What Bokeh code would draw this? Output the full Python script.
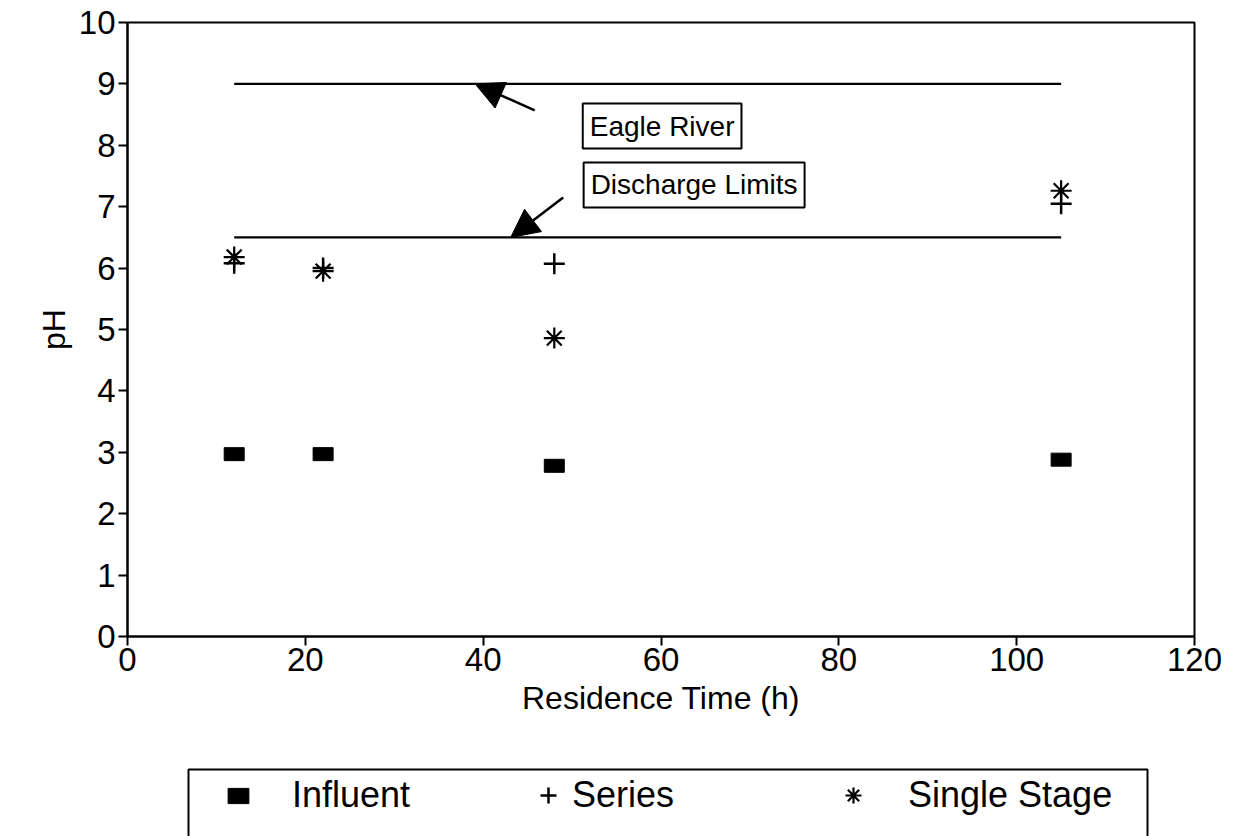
from bokeh.plotting import figure
from bokeh.layouts import column
from bokeh.models import (Legend, LegendItem, Arrow, NormalHead, Label, Range1d,
                          BoxAnnotation)
from bokeh.embed import file_html
from bokeh.resources import INLINE

# ---- data ----
residence_time = [12, 22, 48, 105]          # h
influent_ph = [2.97, 2.97, 2.78, 2.88]
series_ph = [6.08, 6.00, 6.07, 7.05]
single_stage_ph = [6.18, 5.95, 4.86, 7.26]

limit_x = [12, 105]                           # extent of the discharge limit lines
upper_limit = [9.0, 9.0]
lower_limit = [6.5, 6.5]

x_ticks = [0, 20, 40, 60, 80, 100, 120]
y_ticks = [0, 1, 2, 3, 4, 5, 6, 7, 8, 9, 10]

series_names = ["Influent", "Series", "Single Stage"]

FONT = "Liberation Sans"
W = 1235
MAIN_H = 760
LEG_H = 76
B_LEFT, B_RIGHT = 127, 41
FRAME_W = W - B_LEFT - B_RIGHT


def draw_series(fig):
    r_inf = fig.rect(x=residence_time, y=influent_ph, width=20, height=13,
                     width_units="screen", height_units="screen",
                     fill_color="black", line_color="black")
    r_ser = fig.scatter(x=residence_time, y=series_ph, marker="cross", size=21,
                        line_color="black", line_width=2.5)
    r_sgl = fig.scatter(x=residence_time, y=single_stage_ph, marker="asterisk", size=21,
                        line_color="black", line_width=2.2)
    return [r_inf, r_ser, r_sgl]


# ------------------------------------------------------------------ main plot
p = figure(width=W, height=MAIN_H,
           x_range=Range1d(0, 120), y_range=Range1d(0, 10),
           output_backend="svg", toolbar_location=None,
           min_border_left=B_LEFT, min_border_right=B_RIGHT,
           min_border_top=22, min_border_bottom=124)

p.background_fill_color = "white"
p.border_fill_color = "white"
p.outline_line_color = "black"
p.outline_line_width = 2
p.xgrid.visible = False
p.ygrid.visible = False

for ax in (p.xaxis[0], p.yaxis[0]):
    ax.axis_line_width = 2
    ax.axis_line_color = "black"
    ax.major_tick_line_width = 2
    ax.major_tick_line_color = "black"
    ax.major_tick_out = 9
    ax.major_tick_in = 0
    ax.minor_tick_line_color = None
    ax.major_label_text_font = FONT
    ax.major_label_text_font_size = "33px"
    ax.major_label_text_color = "black"
    ax.axis_label_text_font = FONT
    ax.axis_label_text_font_size = "32px"
    ax.axis_label_text_font_style = "normal"
    ax.axis_label_text_color = "black"

p.xaxis.ticker = x_ticks
p.yaxis.ticker = y_ticks
p.xaxis.axis_label = "Residence Time (h)"
p.yaxis.axis_label = "pH"
p.xaxis.major_label_standoff = 2
p.yaxis.major_label_standoff = 3
p.xaxis.axis_label_standoff = 6
p.yaxis.axis_label_standoff = 4

# limit lines
p.line(limit_x, upper_limit, line_color="black", line_width=2.2)
p.line(limit_x, lower_limit, line_color="black", line_width=2.2)

draw_series(p)

# annotation arrows
p.add_layout(Arrow(end=NormalHead(size=28, fill_color="black", line_color="black"),
                   x_start=45.8, y_start=8.57, x_end=39.1, y_end=9.0,
                   line_color="black", line_width=2.5))
p.add_layout(Arrow(end=NormalHead(size=28, fill_color="black", line_color="black"),
                   x_start=49.0, y_start=7.15, x_end=43.1, y_end=6.5,
                   line_color="black", line_width=2.5))

# annotation boxes
for txt, xx, yy in (("Eagle River", 51.2, 8.68), ("Discharge Limits", 51.3, 7.72)):
    p.add_layout(Label(x=xx, y=yy, text=txt, anchor="top_left",
                       text_font=FONT, text_font_size="28px", text_color="black",
                       border_line_color="black", border_line_width=2,
                       background_fill_color="white", padding=7))

# ------------------------------------------------------------------ legend strip
# A strip below the chart that only carries the key; its ranges keep the
# series themselves out of view so that only the legend entries show.
# Its frame is aligned with the main plot's frame (x from 127 to 1194 px).
X0, Y0 = 1000.0, 1000.0
lg = figure(width=W, height=LEG_H,
            x_range=Range1d(X0, X0 + FRAME_W), y_range=Range1d(Y0, Y0 + LEG_H),
            output_backend="svg", toolbar_location=None,
            x_axis_location=None, y_axis_location=None,
            min_border_left=B_LEFT, min_border_right=B_RIGHT,
            min_border_top=0, min_border_bottom=0)
lg.outline_line_color = None
lg.xgrid.visible = False
lg.ygrid.visible = False
lg.background_fill_color = "white"
lg.border_fill_color = "white"

leg_renderers = draw_series(lg)

# legend frame (its lower edge runs past the bottom of the page, as in the scan)
lg.add_layout(BoxAnnotation(left=X0 + 188 - B_LEFT, right=X0 + 1147 - B_LEFT,
                            top=Y0 + LEG_H - 9, bottom=Y0 - 40,
                            fill_alpha=0, line_color="black", line_alpha=1.0,
                            line_width=2))

entry_cfg = [  # (glyph area w, h, label standoff, left px on the page)
    (26, 19, 41, 225),
    (40, 40, 4, 528),
    (40, 40, 35, 833),
]
for name, rend, (gw, gh, so, lx) in zip(series_names, leg_renderers, entry_cfg):
    lg.add_layout(Legend(items=[LegendItem(label=name, renderers=[rend])],
                         location=(lx - B_LEFT, 20), orientation="horizontal",
                         border_line_color=None, background_fill_alpha=0,
                         label_text_font=FONT, label_text_font_size="36px",
                         label_text_color="black",
                         glyph_width=gw, glyph_height=gh, label_standoff=so,
                         padding=0, margin=0, spacing=0))

layout = column(p, lg, spacing=0)
open("out.html", "w").write(file_html(layout, INLINE))
